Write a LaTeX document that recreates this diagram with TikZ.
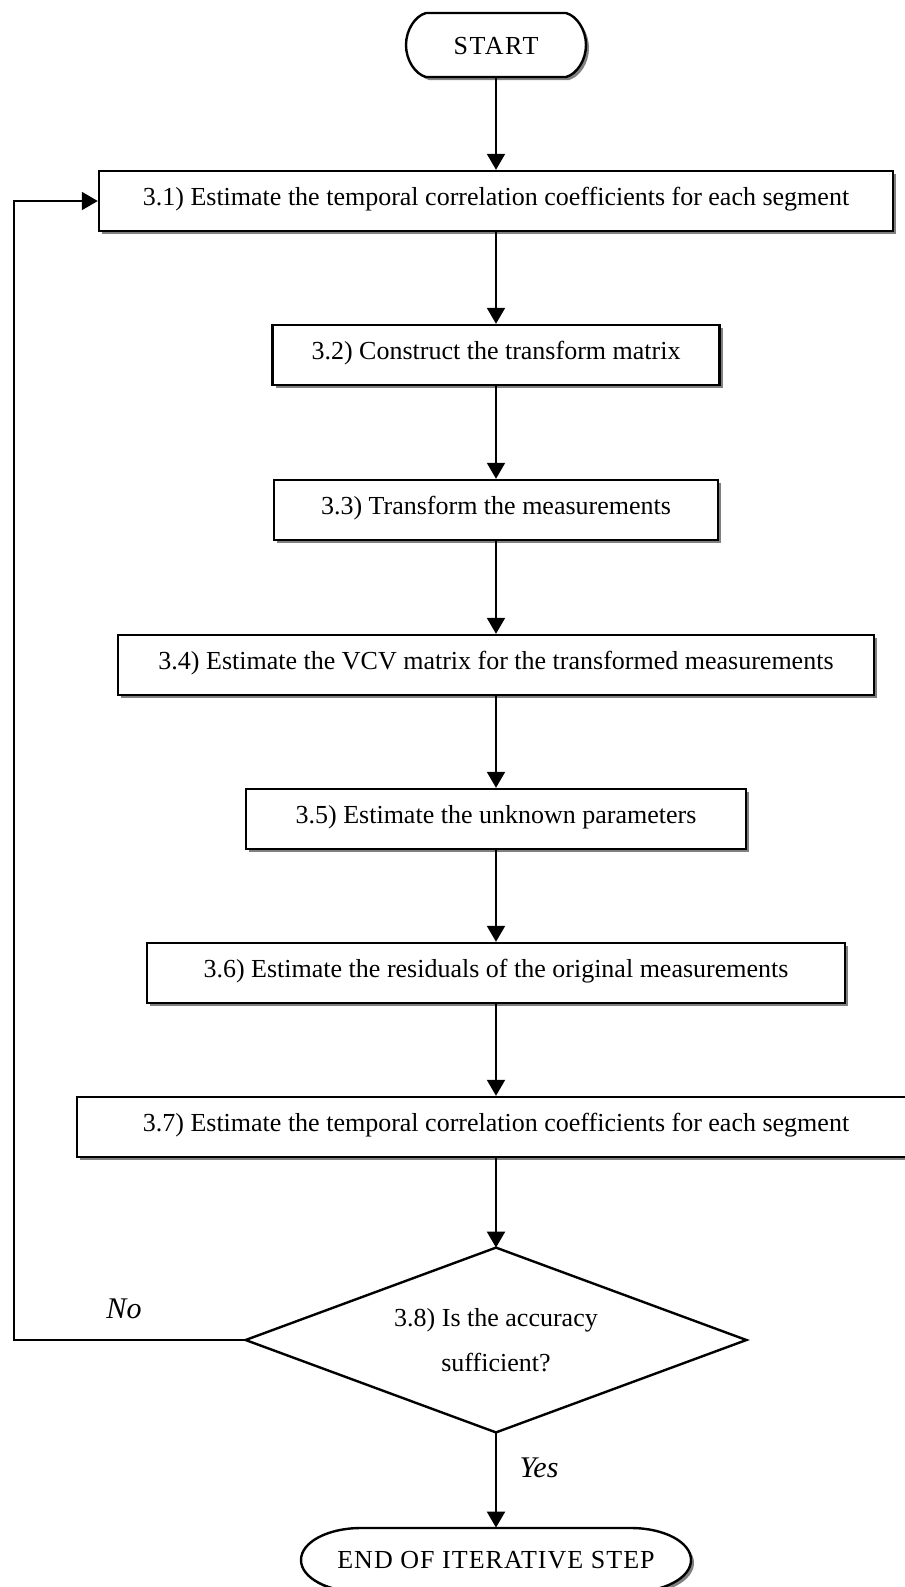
\documentclass[tikz,border=0pt]{standalone}
\usepackage{fontspec}
\setmainfont{Liberation Serif}
\usetikzlibrary{arrows.meta,shadows}
\begin{document}
\begin{tikzpicture}[x=0.5pt,y=-0.5pt,
  every node/.style={font=\fontsize{13}{15.6}\selectfont, inner sep=0pt},
  procbox/.style={draw, line width=1.2pt, fill=white, minimum height=30pt,
    text height=10pt, text depth=6pt,
    drop shadow={shadow xshift=1.5pt, shadow yshift=-1.5pt, fill=black!50, opacity=1}},
  flow/.style={line width=1pt, -{Triangle[length=8pt,width=9pt]}},
  lbl/.style={font=\fontsize{15}{18}\selectfont\itshape},
  shadowfill/.style={fill=black!50, draw=none},
  termline/.style={draw, line width=1.2pt, fill=white},
  hidden/.style={draw=none}]
\useasboundingbox (0,0) rectangle (905,1587);

% START terminal outline
\path[shadowfill, shift={(3,3)}] (426,13) -- (566,13) .. controls (577,16) and (586,30) .. (586,45)
  .. controls (586,60) and (577,74) .. (566,77) -- (426,77)
  .. controls (415,74) and (406,60) .. (406,45) .. controls (406,30) and (415,16) .. cycle;
\path[termline] (426,13) -- (566,13) .. controls (577,16) and (586,30) .. (586,45)
  .. controls (586,60) and (577,74) .. (566,77) -- (426,77)
  .. controls (415,74) and (406,60) .. (406,45) .. controls (406,30) and (415,16) .. cycle;
\node[hidden, minimum width=90pt, minimum height=32pt] (start) at (496,46) {\addfontfeature{LetterSpace=6}START};

% process boxes
\node[procbox, minimum width=397pt] (b1) at (496,201) {3.1) Estimate the temporal correlation coefficients for each segment};
\node[procbox, minimum width=223.5pt] (b2) at (496,355) {3.2) Construct the transform matrix};
\node[procbox, minimum width=222pt] (b3) at (496,510) {3.3) Transform the measurements};
\node[procbox, minimum width=378pt] (b4) at (496,665) {3.4) Estimate the VCV matrix for the transformed measurements};
\node[procbox, minimum width=250pt] (b5) at (496,819) {3.5) Estimate the unknown parameters};
\node[procbox, minimum width=349pt] (b6) at (496,973) {3.6) Estimate the residuals of the original measurements};
\node[procbox, minimum width=419pt] (b7) at (496,1127) {3.7) Estimate the temporal correlation coefficients for each segment};

% decision
\node[hidden, minimum width=250pt, minimum height=92pt, align=center,
  font=\fontsize{13}{22.5}\selectfont] (d) at (496,1340) {3.8) Is the accuracy\\sufficient?};
\draw[line width=1.2pt] (d.north) -- (d.east) -- (d.south) -- (d.west) -- cycle;

% END terminal outline
\path[shadowfill, shift={(3,3)}] (361,1528) -- (631,1528) .. controls (664,1528) and (691,1542) .. (691,1560)
  .. controls (691,1578) and (664,1592) .. (631,1592) -- (361,1592)
  .. controls (328,1592) and (301,1578) .. (301,1560) .. controls (301,1542) and (328,1528) .. cycle;
\path[termline] (361,1528) -- (631,1528) .. controls (664,1528) and (691,1542) .. (691,1560)
  .. controls (691,1578) and (664,1592) .. (631,1592) -- (361,1592)
  .. controls (328,1592) and (301,1578) .. (301,1560) .. controls (301,1542) and (328,1528) .. cycle;
\node[hidden, minimum width=195pt, minimum height=32pt] (end) at (496,1560) {\addfontfeature{LetterSpace=4}END OF ITERATIVE STEP};

% labels
\node[lbl] (no) at (124,1309) {No};
\node[lbl] (yes) at (539,1468) {Yes};

% connectors
\draw[flow] (start.south) -- (b1.north);
\draw[flow] (b1.south) -- (b2.north);
\draw[flow] (b2.south) -- (b3.north);
\draw[flow] (b3.south) -- (b4.north);
\draw[flow] (b4.south) -- (b5.north);
\draw[flow] (b5.south) -- (b6.north);
\draw[flow] (b6.south) -- (b7.north);
\draw[flow] (b7.south) -- (d.north);
\draw[flow] (d.south) -- (end.north);
\coordinate (lp) at (14,1340);
\draw[flow] (d.west) -- (lp) |- (b1.west);
\end{tikzpicture}
\end{document}
